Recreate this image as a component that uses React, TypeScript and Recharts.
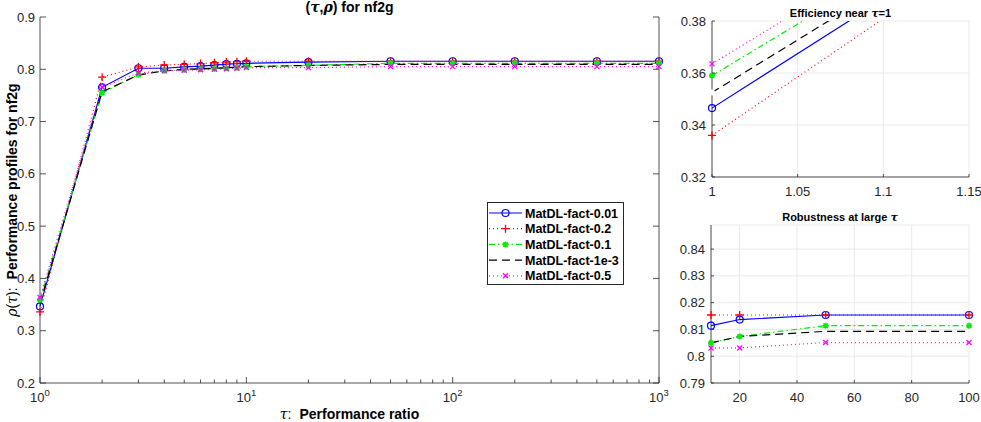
import React from "react";
import { LineChart, Line, XAxis, YAxis, CartesianGrid, Legend } from "recharts";

// tau grid and profile values
const taus = [1, 2, 3, 4, 5, 6, 7, 8, 9, 10, 20, 50, 100, 200, 500, 1000];
const fact001 = [0.3465, 0.7655, 0.802, 0.802, 0.8045, 0.806, 0.808, 0.8098, 0.8106, 0.8114, 0.8137, 0.8154, 0.8154, 0.8154, 0.8154, 0.8154];
const fact02 = [0.336, 0.785, 0.8045, 0.8082, 0.8095, 0.811, 0.8125, 0.8137, 0.8145, 0.8154, 0.8154, 0.8154, 0.8154, 0.8154, 0.8154, 0.8154];
const fact01 = [0.359, 0.755, 0.79, 0.797, 0.799, 0.8, 0.801, 0.802, 0.803, 0.805, 0.8074, 0.8114, 0.8114, 0.8114, 0.8114, 0.8114];
const fact1e3 = [0.3525, 0.757, 0.789, 0.797, 0.8, 0.801, 0.802, 0.803, 0.804, 0.805, 0.8074, 0.8093, 0.8093, 0.8093, 0.8093, 0.8093];
const fact05 = [0.3635, 0.766, 0.793, 0.797, 0.798, 0.799, 0.8, 0.801, 0.802, 0.8031, 0.8031, 0.8051, 0.8051, 0.8051, 0.8051, 0.8051];

const mainXTicks = [1, 2, 3, 4, 5, 6, 7, 8, 9, 10, 20, 30, 40, 50, 60, 70, 80, 90, 100, 200, 300, 400, 500, 600, 700, 800, 900, 1000];
const mainXMajor = [1, 10, 100, 1000];
const mainYTicks = [0.2, 0.3, 0.4, 0.5, 0.6, 0.7, 0.8, 0.9];
const nearXTicks = [1, 1.05, 1.1, 1.15];
const nearYTicks = [0.32, 0.34, 0.36, 0.38];
const farXTicks = [20, 40, 60, 80, 100];
const farYTicks = [0.79, 0.8, 0.81, 0.82, 0.83, 0.84];

const series = [
  { key: "f001", name: "MatDL-fact-0.01", values: fact001, color: "#0000ff", dash: undefined, marker: "o" },
  { key: "f02", name: "MatDL-fact-0.2", values: fact02, color: "#ff0000", dash: "1 3", marker: "+" },
  { key: "f01", name: "MatDL-fact-0.1", values: fact01, color: "#00ee00", dash: "6 3 1.5 3", marker: "*" },
  { key: "f1e3", name: "MatDL-fact-1e-3", values: fact1e3, color: "#000000", dash: "8 5", marker: "" },
  { key: "f05", name: "MatDL-fact-0.5", values: fact05, color: "#ff00ff", dash: "1 3", marker: "x" },
];

const rows = taus.map((t, i) => {
  const r: any = { tau: t };
  series.forEach((s) => (r[s.key] = s.values[i]));
  return r;
});
const rowsNear = rows.filter((r) => r.tau <= 1.15);
const rowsFar = rows.filter((r) => r.tau >= 10 && r.tau <= 100);

const AXIS = "#262626";
const FONT = "'Liberation Sans', Arial, Helvetica, sans-serif";
const GREEK = "'DejaVu Serif', 'Liberation Serif', serif";

function Marker({ kind, cx, cy, color }: any) {
  if (cx == null || cy == null) return null;
  if (kind === "o") return <circle cx={cx} cy={cy} r={3.5} fill="none" stroke={color} strokeWidth={1.2} />;
  if (kind === "+")
    return <path d={`M${cx - 4},${cy}H${cx + 4}M${cx},${cy - 4}V${cy + 4}`} stroke={color} strokeWidth={1.3} fill="none" />;
  if (kind === "x")
    return <path d={`M${cx - 2.5},${cy - 2.5}L${cx + 2.5},${cy + 2.5}M${cx - 2.5},${cy + 2.5}L${cx + 2.5},${cy - 2.5}`} stroke={color} strokeWidth={1.3} fill="none" />;
  if (kind === "*")
    return (
      <path
        d={`M${cx - 3},${cy}H${cx + 3}M${cx},${cy - 3}V${cy + 3}M${cx - 2.2},${cy - 2.2}L${cx + 2.2},${cy + 2.2}M${cx - 2.2},${cy + 2.2}L${cx + 2.2},${cy - 2.2}`}
        stroke={color}
        strokeWidth={1.6}
        fill="none"
      />
    );
  return null;
}

const dotFor = (s: any) =>
  s.marker ? (p: any) => <Marker key={`m-${s.key}-${p.index}`} kind={s.marker} cx={p.cx} cy={p.cy} color={s.color} /> : false;

// main chart ticks (pointing inward, MATLAB style)
const MainBottomTick = (p: any) => {
  const v = p.payload.value;
  const major = mainXMajor.includes(v);
  return (
    <g>
      <line x1={p.x} x2={p.x} y1={p.y} y2={p.y - (major ? 6 : 3.5)} stroke={AXIS} strokeWidth={0.8} />
      {major && (
        <text x={p.x} y={p.y + 19} textAnchor="middle" fontSize={13} fill={AXIS} fontFamily={FONT}>
          10<tspan dy={-6} fontSize={9.5}>{Math.round(Math.log10(v))}</tspan>
        </text>
      )}
    </g>
  );
};
const MainTopTick = (p: any) => {
  const major = mainXMajor.includes(p.payload.value);
  return <line x1={p.x} x2={p.x} y1={p.y} y2={p.y + (major ? 6 : 3.5)} stroke={AXIS} strokeWidth={0.8} />;
};
const MainLeftTick = (p: any) => (
  <g>
    <line x1={p.x} x2={p.x + 6} y1={p.y} y2={p.y} stroke={AXIS} strokeWidth={0.8} />
    <text x={p.x - 5} y={p.y + 4.5} textAnchor="end" fontSize={13} fill={AXIS} fontFamily={FONT}>
      {String(p.payload.value)}
    </text>
  </g>
);
const MainRightTick = (p: any) => <line x1={p.x} x2={p.x - 6} y1={p.y} y2={p.y} stroke={AXIS} strokeWidth={0.8} />;

const InsetBottomTick = (p: any) => (
  <g>
    <line x1={p.x} x2={p.x} y1={p.y} y2={p.y - 3} stroke={AXIS} strokeWidth={0.8} />
    <text x={p.x} y={p.y + 18.5} textAnchor="middle" fontSize={13} fill={AXIS} fontFamily={FONT}>
      {String(p.payload.value)}
    </text>
  </g>
);
const InsetLeftTick = (p: any) => (
  <g>
    <line x1={p.x} x2={p.x + 3} y1={p.y} y2={p.y} stroke={AXIS} strokeWidth={0.8} />
    <text x={p.x - 6} y={p.y + 4.5} textAnchor="end" fontSize={13} fill={AXIS} fontFamily={FONT}>
      {String(p.payload.value)}
    </text>
  </g>
);

const LegendBox = () => (
  <div style={{ width: 137, height: 83, border: `1px solid ${AXIS}`, background: "#fff", boxSizing: "border-box" }}>
    <svg width={135} height={81}>
      {series.map((s, i) => {
        const y = 10 + i * 15.7;
        return (
          <g key={s.key}>
            <line x1={1} x2={34} y1={y} y2={y} stroke={s.color} strokeWidth={1.2} strokeDasharray={s.dash} />
            <Marker kind={s.marker} cx={17.5} cy={y} color={s.color} />
            <text x={37} y={y + 4.5} fontSize={12.5} fontWeight="bold" fontFamily={FONT} fill="#000">
              {s.name}
            </text>
          </g>
        );
      })}
    </svg>
  </div>
);

export default function App() {
  return (
    <div style={{ position: "absolute", left: 0, top: 0, width: 981, height: 422, background: "#fff", fontFamily: FONT }}>
      {/* main performance profile */}
      <div style={{ position: "absolute", left: 0, top: 0 }}>
        <LineChart width={670} height={422} data={rows} margin={{ top: 17, right: 0, bottom: 0, left: 0 }}>
          <XAxis xAxisId="b" dataKey="tau" type="number" scale="log" domain={[1, 1000]} ticks={mainXTicks} interval={0}
            height={39} tickSize={0} tickMargin={0} tickLine={false} axisLine={{ stroke: AXIS, strokeWidth: 0.8 }} tick={MainBottomTick} />
          <XAxis xAxisId="t" orientation="top" dataKey="tau" type="number" scale="log" domain={[1, 1000]} ticks={mainXTicks} interval={0}
            height={0} tickSize={0} tickMargin={0} tickLine={false} axisLine={{ stroke: AXIS, strokeWidth: 0.8 }} tick={MainTopTick} />
          <YAxis yAxisId="l" type="number" domain={[0.2, 0.9]} ticks={mainYTicks} interval={0} width={40}
            tickSize={0} tickMargin={0} tickLine={false} axisLine={{ stroke: AXIS, strokeWidth: 0.8 }} tick={MainLeftTick} />
          <YAxis yAxisId="r" orientation="right" type="number" domain={[0.2, 0.9]} ticks={mainYTicks} interval={0} width={11}
            tickSize={0} tickMargin={0} tickLine={false} axisLine={{ stroke: AXIS, strokeWidth: 0.8 }} tick={MainRightTick} />
          {series.map((s) => (
            <Line key={s.key} xAxisId="b" yAxisId="l" dataKey={s.key} name={s.name} stroke={s.color} strokeWidth={1.2}
              strokeDasharray={s.dash} dot={dotFor(s)} activeDot={false} isAnimationActive={false} />
          ))}
          <Line xAxisId="t" yAxisId="r" dataKey="f001" stroke="none" dot={false} activeDot={false} legendType="none" isAnimationActive={false} />
          <Legend layout="vertical" align="center" verticalAlign="middle" content={<LegendBox />}
            wrapperStyle={{ left: 487, top: 202, width: 137, height: 83 }} />
        </LineChart>
      </div>

      {/* efficiency inset */}
      <div style={{ position: "absolute", left: 660, top: 0 }}>
        <LineChart width={321} height={200} data={rows} margin={{ top: 21, right: 12, bottom: 0, left: 0 }}>
          <CartesianGrid xAxisId="c" yAxisId="c" stroke="#e4e4e4" strokeWidth={0.8} />
          <XAxis xAxisId="c" dataKey="tau" type="number" domain={[1, 1.15]} ticks={nearXTicks} interval={0} allowDataOverflow
            height={23} tickSize={0} tickMargin={0} tickLine={false} axisLine={{ stroke: AXIS, strokeWidth: 0.8 }} tick={InsetBottomTick} />
          <YAxis yAxisId="c" type="number" domain={[0.32, 0.38]} ticks={nearYTicks} interval={0} allowDataOverflow width={52}
            tickSize={0} tickMargin={0} tickLine={false} axisLine={{ stroke: AXIS, strokeWidth: 0.8 }} tick={InsetLeftTick} />
          <XAxis xAxisId="d" dataKey="tau" type="number" domain={[1, 1.15]} hide />
          <YAxis yAxisId="d" type="number" domain={[0.32, 0.38]} hide />
          {series.map((s) => (
            <Line key={s.key} xAxisId="c" yAxisId="c" dataKey={s.key} stroke={s.color} strokeWidth={1.2}
              strokeDasharray={s.dash} dot={false} activeDot={false} isAnimationActive={false} />
          ))}
          {series.map((s) => (
            <Line key={`d-${s.key}`} data={rowsNear} xAxisId="d" yAxisId="d" dataKey={s.key} stroke="none"
              dot={dotFor(s)} activeDot={false} legendType="none" isAnimationActive={false} />
          ))}
        </LineChart>
      </div>

      {/* robustness inset */}
      <div style={{ position: "absolute", left: 660, top: 200 }}>
        <LineChart width={321} height={222} data={rowsFar} margin={{ top: 25, right: 12, bottom: 0, left: 0 }}>
          <CartesianGrid stroke="#e4e4e4" strokeWidth={0.8} />
          <XAxis dataKey="tau" type="number" domain={[10, 100]} ticks={farXTicks} interval={0}
            height={39} tickSize={0} tickMargin={0} tickLine={false} axisLine={{ stroke: AXIS, strokeWidth: 0.8 }} tick={InsetBottomTick} />
          <YAxis type="number" domain={[0.79, 0.849]} ticks={farYTicks} interval={0} width={51}
            tickSize={0} tickMargin={0} tickLine={false} axisLine={{ stroke: AXIS, strokeWidth: 0.8 }} tick={InsetLeftTick} />
          {series.map((s) => (
            <Line key={s.key} dataKey={s.key} stroke={s.color} strokeWidth={1.2} strokeDasharray={s.dash}
              dot={dotFor(s)} activeDot={false} isAnimationActive={false} />
          ))}
        </LineChart>
      </div>

      {/* titles and axis labels */}
      <svg width={981} height={422} style={{ position: "absolute", left: 0, top: 0, pointerEvents: "none" }}>
        <text x={349.5} y={12} textAnchor="middle" fontSize={14} fontWeight="bold" fontFamily={FONT}>
          (<tspan fontFamily={GREEK} fontStyle="italic">τ</tspan>,<tspan fontFamily={GREEK} fontStyle="italic">ρ</tspan>) for nf2g
        </text>
        <text x={349.5} y={419} textAnchor="middle" fontSize={14} fontFamily={FONT}>
          <tspan fontFamily={GREEK} fontStyle="italic">τ</tspan>:<tspan dx={8} fontWeight="bold">Performance ratio</tspan>
        </text>
        <text transform="translate(17,200) rotate(-90)" textAnchor="middle" fontSize={14} fontFamily={FONT}>
          <tspan fontFamily={GREEK} fontStyle="italic">ρ</tspan>(<tspan fontFamily={GREEK} fontStyle="italic">τ</tspan>):<tspan dx={8} fontWeight="bold">Performance profiles for nf2g</tspan>
        </text>
        <text x={840.5} y={17} textAnchor="middle" fontSize={11} fontWeight="bold" fontFamily={FONT}>
          Efficiency near <tspan fontFamily={GREEK} fontStyle="italic">τ</tspan>=1
        </text>
        <text x={840} y={221} textAnchor="middle" fontSize={11} fontWeight="bold" fontFamily={FONT}>
          Robustness at large <tspan fontFamily={GREEK} fontStyle="italic">τ</tspan>
        </text>
      </svg>
    </div>
  );
}
